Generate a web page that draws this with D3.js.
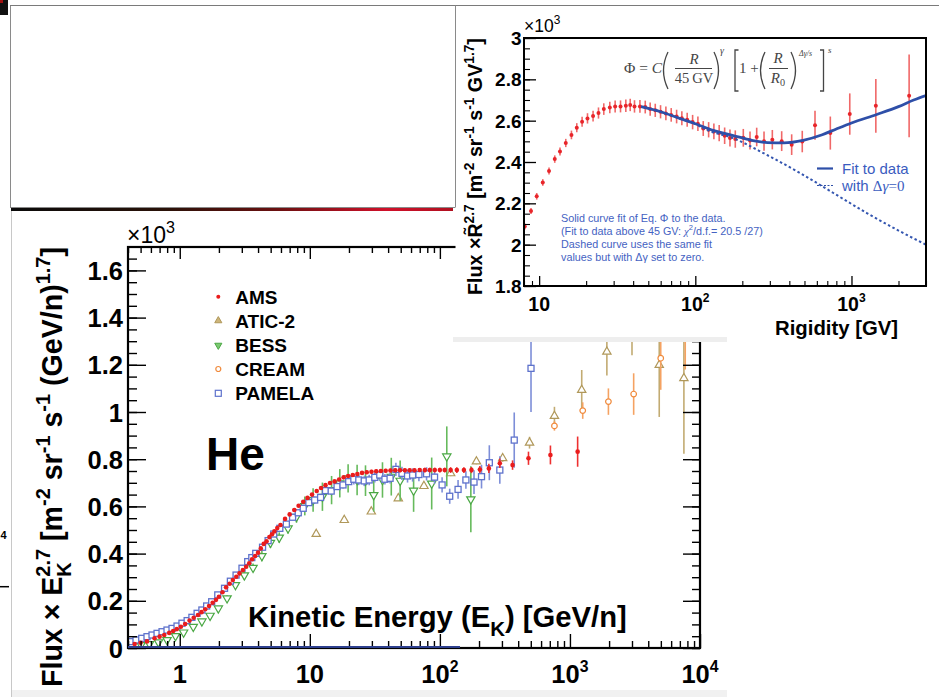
<!DOCTYPE html>
<html><head><meta charset="utf-8">
<script src="https://cdn.jsdelivr.net/npm/d3@7"></script>
<style>html,body{margin:0;padding:0;background:#fff;overflow:hidden}svg{display:block}</style>
</head><body>
<script>
// ---------------- DATA: main panel (He, Flux x Ek^2.7, units 10^3) ----------------
const amsE = [0.45,0.50,0.56,0.64,0.70,0.76,0.83,0.89,0.95,1.02,1.10,1.19,1.28,1.38,1.47,1.57,1.68,1.79,1.90,2.00,2.13,2.27,2.42,2.56,2.72,2.88,3.06,3.24,3.42,3.60,3.80,4.00,4.20,4.42,4.65,4.89,5.12,5.34,5.62,5.95,6.45,7.00,7.60,8.20,8.90,9.60,10.4,11.3,12.2,13.2,14.3,15.5,16.8,18.2,19.7,21.4,23.2,25.2,27.4,29.8,32.4,35.2,38.3,41.7,45.4,49.4,53.8,58.6,63.8,70,76.6,83.7,91.4,100,109,121,135,153,175,203,238,289,362,480,708,1146];
const amsFlux = [0.017,0.022,0.028,0.041,0.048,0.055,0.064,0.072,0.080,0.090,0.102,0.116,0.128,0.140,0.152,0.164,0.178,0.192,0.204,0.217,0.236,0.257,0.272,0.288,0.302,0.316,0.330,0.344,0.359,0.376,0.390,0.404,0.422,0.441,0.452,0.470,0.482,0.494,0.508,0.521,0.547,0.566,0.585,0.603,0.620,0.636,0.650,0.665,0.678,0.690,0.699,0.706,0.714,0.723,0.729,0.733,0.737,0.742,0.745,0.747,0.749,0.750,0.751,0.752,0.753,0.753,0.753,0.753,0.753,0.754,0.754,0.754,0.754,0.754,0.754,0.754,0.754,0.754,0.754,0.756,0.761,0.783,0.775,0.804,0.818,0.832];
const amsErr = [0.004,0.004,0.004,0.004,0.004,0.004,0.004,0.004,0.004,0.004,0.004,0.004,0.004,0.004,0.004,0.004,0.004,0.004,0.004,0.004,0.004,0.004,0.004,0.004,0.004,0.004,0.004,0.004,0.004,0.004,0.004,0.004,0.004,0.004,0.004,0.004,0.004,0.004,0.004,0.004,0.006,0.006,0.006,0.006,0.006,0.006,0.006,0.006,0.006,0.006,0.006,0.006,0.006,0.006,0.006,0.008,0.008,0.008,0.008,0.008,0.008,0.008,0.008,0.008,0.008,0.008,0.008,0.008,0.008,0.008,0.010,0.010,0.010,0.010,0.010,0.012,0.012,0.012,0.013,0.015,0.020,0.020,0.020,0.028,0.040,0.064];

const pamelaE = [0.418,0.461,0.51,0.56,0.612,0.669,0.731,0.798,0.872,0.953,1.04,1.14,1.24,1.36,1.48,1.61,1.76,1.96,2.21,2.45,2.71,3.01,3.33,3.58,3.84,4.33,4.78,5.28,5.88,6.6,7.37,8.15,8.9,9.83,10.9,12.1,13.2,14.6,16.2,18.0,19.9,21.8,23.8,26.2,28.6,31.6,34.5,37.8,41.4,45.9,51.1,56.4,61.7,69,79,91,104,119,138,158.5,183,209,240,289,373,502];
const pamelaFlux = [0.027,0.034,0.041,0.048,0.055,0.062,0.069,0.076,0.083,0.093,0.105,0.116,0.130,0.147,0.161,0.178,0.196,0.225,0.253,0.283,0.309,0.338,0.366,0.383,0.401,0.427,0.455,0.483,0.507,0.525,0.554,0.573,0.592,0.616,0.627,0.638,0.667,0.665,0.684,0.691,0.705,0.715,0.712,0.708,0.712,0.723,0.733,0.715,0.719,0.757,0.740,0.729,0.733,0.735,0.738,0.724,0.691,0.643,0.672,0.712,0.703,0.726,0.785,0.754,0.881,1.185];
const pamelaErr = [0.003,0.003,0.003,0.003,0.003,0.003,0.003,0.003,0.003,0.003,0.003,0.003,0.003,0.003,0.003,0.003,0.003,0.003,0.003,0.003,0.003,0.003,0.003,0.003,0.003,0.008,0.008,0.008,0.008,0.008,0.008,0.008,0.008,0.008,0.015,0.015,0.015,0.015,0.015,0.015,0.015,0.022,0.022,0.022,0.022,0.022,0.022,0.022,0.022,0.028,0.028,0.028,0.028,0.028,0.028,0.028,0.032,0.032,0.040,0.037,0.050,0.050,0.074,0.058,0.117,0.185];

const bessE = [0.504,0.585,0.686,0.798,0.927,1.07,1.27,1.48,1.71,1.98,2.31,2.68,3.14,3.66,4.28,4.98,5.82,6.8,7.9,9.15,10.6,12.5,14.7,17,19.7,23.1,26.8,31.0,36.2,42.3,49.5,62.8,86.5,113,173];
const bessFlux = [0.013,0.017,0.024,0.034,0.051,0.066,0.090,0.113,0.137,0.168,0.211,0.267,0.308,0.340,0.390,0.446,0.468,0.507,0.556,0.602,0.627,0.641,0.669,0.698,0.719,0.712,0.709,0.648,0.712,0.726,0.709,0.667,0.697,0.812,0.630];
const bessErr = [0.004,0.004,0.004,0.004,0.004,0.004,0.004,0.004,0.004,0.004,0.012,0.012,0.018,0.018,0.022,0.022,0.022,0.022,0.025,0.040,0.050,0.060,0.060,0.060,0.060,0.065,0.065,0.070,0.075,0.080,0.085,0.090,0.110,0.127,0.140];

const aticE = [11.2,18.4,29.7,47.9,75.4,121,191,304,489,760,1232,1923,3000,4860,7520];
const aticFlux = [0.483,0.542,0.578,0.634,0.686,0.740,0.790,0.804,0.870,0.983,1.093,1.255,1.340,1.199,1.143];
const aticErr = [0.006,0.006,0.007,0.008,0.010,0.012,0.012,0.015,0.025,0.039,0.085,0.100,0.100,0.220,0.320];

const creamE = [760,1254,1976,3090,4990,7700];
const creamFlux = [0.941,1.006,1.044,1.076,1.228,1.450];
const creamErr = [0.020,0.035,0.056,0.088,0.134,0.270];

const mainYTicks = [0,0.2,0.4,0.6,0.8,1,1.2,1.4,1.6];
const mainYLabels = ["0","0.2","0.4","0.6","0.8","1","1.2","1.4","1.6"];
const mainXTicks = [1,10,100,1000,10000];
const mainXLabels = [["1",""],["10",""],["10","2"],["10","3"],["10","4"]];
const legendNames = ["AMS","ATIC-2","BESS","CREAM","PAMELA"];

// ---------------- DATA: inset (rigidity) ----------------
const rigidity = [8.09,8.87,9.65,10.55,11.57,12.59,13.6,14.81,16.1,17.42,18.84,20.4,22.15,23.99,25.94,28.35,30.67,33.2,35.9,38.3,40.8,44.2,47.8,51.4,55.4,59.9,64.8,70.1,75.9,82.0,88.7,96.1,103.9,112.4,121.7,131.5,142.2,154.1,166.7,180.3,202.9,224,247.2,275.4,311.3,357.3,414,484,584,732,975,1432,2339];
const rigFlux = [2.088,2.163,2.234,2.301,2.356,2.414,2.451,2.492,2.531,2.566,2.595,2.611,2.622,2.637,2.656,2.664,2.669,2.669,2.672,2.676,2.669,2.669,2.666,2.656,2.650,2.643,2.635,2.628,2.620,2.612,2.604,2.593,2.585,2.562,2.556,2.548,2.540,2.527,2.516,2.511,2.517,2.504,2.521,2.501,2.508,2.501,2.484,2.499,2.578,2.540,2.632,2.672,2.720];
const rigErr = [0.015,0.015,0.016,0.016,0.017,0.018,0.019,0.020,0.021,0.022,0.024,0.025,0.026,0.027,0.028,0.028,0.029,0.029,0.030,0.030,0.030,0.031,0.031,0.032,0.032,0.032,0.033,0.033,0.033,0.034,0.034,0.035,0.035,0.036,0.037,0.038,0.039,0.040,0.041,0.042,0.043,0.044,0.045,0.046,0.047,0.048,0.050,0.052,0.070,0.080,0.100,0.130,0.200];
const fitR = [45,60,80,100,130,175,230,290,370,490,650,800,1000,1450,2000,2500,3000];
const fitFlux = [2.668,2.643,2.610,2.585,2.553,2.528,2.505,2.494,2.493,2.505,2.532,2.560,2.589,2.630,2.668,2.700,2.722];
const dashR = [45,60,80,100,118,175,286,468,766,1253,2049,3000];
const dashFlux = [2.668,2.643,2.610,2.584,2.556,2.515,2.435,2.347,2.250,2.153,2.064,2.000];
const insetYTicks = [1.8,2,2.2,2.4,2.6,2.8,3];
const insetYLabels = ["1.8","2","2.2","2.4","2.6","2.8","3"];
const insetXTicks = [10,100,1000];
const insetXLabels = [["10",""],["10","2"],["10","3"]];
const insetNotes = ["Solid curve fit of Eq. \u03A6 to the data.","(Fit to data above 45 GV: ","Dashed curve uses the same fit","values but with \u0394\u03B3 set to zero."];

// ---------------- drawing ----------------
const W = 939, H = 697;
const SANS = "'Liberation Sans', Arial, Helvetica, sans-serif";
const SERIF = "'Liberation Serif', 'Times New Roman', serif";
const svg = d3.select("body").append("svg").attr("width", W).attr("height", H);
const defs = svg.append("defs");
svg.append("rect").attr("width", W).attr("height", H).attr("fill", "#fff");

// rich text helper: parts = [[text, kind, opts]]
function rich(parent, x, y, parts, o) {
  const t = parent.append("text").attr("x", x).attr("y", y)
    .attr("font-family", o.family || SANS).attr("font-weight", o.weight || "bold")
    .attr("font-size", o.fs).attr("fill", o.fill || "#000")
    .attr("text-anchor", o.anchor || "start");
  if (o.transform) t.attr("transform", o.transform);
  let cur = 0, prev = null, pendingDx = 0;
  parts.forEach(p => {
    const kind = p[1] || "", po = p[2] || {};
    let target = 0, size = o.fs;
    if (kind === "sup") { target = o.fs * (o.supShift || 0.42); size = o.fs * (o.supScale || 0.68); }
    if (kind === "sub" || kind === "subback") { target = -o.fs * (o.subShift || 0.3); size = o.fs * (o.supScale || 0.68); }
    const ts = t.append("tspan").attr("dy", cur - target).attr("font-size", size).text(p[0]);
    if (po.italic) ts.attr("font-style", "italic");
    if (po.family) ts.attr("font-family", po.family);
    if (po.weight) ts.attr("font-weight", po.weight);
    if (pendingDx) { ts.attr("dx", pendingDx); pendingDx = 0; }
    if (kind === "subback" && prev) {
      const supW = prev.node().getComputedTextLength();
      ts.attr("dx", -supW);
      const subW = ts.node().getComputedTextLength();
      pendingDx = Math.max(0, supW - subW);
    }
    cur = target; prev = ts;
  });
  return t;
}
function fitRich(parent, x, y, parts, o, width) {
  let t = rich(parent, x, y, parts, o);
  const w = t.node().getBBox().width;
  if (w > 0) { t.remove(); t = rich(parent, x, y, parts, Object.assign({}, o, {fs: o.fs * width / w})); }
  return t;
}

// --- collage artefacts: top-left empty panel ---
svg.append("rect").attr("x", 0).attr("y", 0).attr("width", 8).attr("height", 15).attr("fill", "#111");
svg.append("rect").attr("x", 0).attr("y", 0).attr("width", 3).attr("height", 3).attr("fill", "#a01010");
svg.append("rect").attr("x", 10.5).attr("y", 5.5).attr("width", 445).attr("height", 202)
  .attr("fill", "#fff").attr("stroke", "#8a8a8a").attr("stroke-width", 1);
const grad = defs.append("linearGradient").attr("id", "gl");
[["0%", "#0a0a0a"], ["35%", "#2a1208"], ["60%", "#6a1010"], ["85%", "#d0102a"], ["100%", "#b01020"]]
  .forEach(s => grad.append("stop").attr("offset", s[0]).attr("stop-color", s[1]));
svg.append("rect").attr("x", 11).attr("y", 208).attr("width", 442).attr("height", 3).attr("fill", "url(#gl)");
svg.append("line").attr("x1", 11.5).attr("x2", 11.5).attr("y1", 211).attr("y2", 697).attr("stroke", "#c8c8c8");
svg.append("text").attr("x", 0.5).attr("y", 539).attr("font-family", SANS)
  .attr("font-weight", "bold").attr("font-size", 11).text("4");
svg.append("line").attr("x1", 0).attr("x2", 9).attr("y1", 586.7).attr("y2", 586.7).attr("stroke", "#000").attr("stroke-width", 1.5);
svg.append("rect").attr("x", 12).attr("y", 690).attr("width", 715).attr("height", 7).attr("fill", "#f1f1f1");

// --- main panel ---
const xM = d3.scaleLog().domain([0.4, 1e4]).range([128, 700]);
const yM = d3.scaleLinear().domain([0, 1.7]).range([648, 246.8]);
defs.append("clipPath").attr("id", "mclip").append("rect").attr("x", 128).attr("y", 247).attr("width", 572).attr("height", 401);
const mg = svg.append("g");
const dg = mg.append("g").attr("clip-path", "url(#mclip)");

function drawSeries(g, E, F, Er, col, barCol, kind, xs, ys) {
  const pts = E.map((e, i) => ({e, f: F[i], er: Er[i]}));
  const gg = g.append("g");
  gg.selectAll("line").data(pts).join("line")
    .attr("x1", d => xs(d.e)).attr("x2", d => xs(d.e))
    .attr("y1", d => ys(d.f - d.er)).attr("y2", d => ys(d.f + d.er))
    .attr("stroke", barCol).attr("stroke-width", 1.6);
  const m = gg.selectAll("g.m").data(pts).join("g").attr("class", "m")
    .attr("transform", d => `translate(${xs(d.e)},${ys(d.f)})`);
  if (kind === "dot") m.append("circle").attr("r", 2.3).attr("fill", col);
  if (kind === "sq") m.append("rect").attr("x", -3).attr("y", -3).attr("width", 6).attr("height", 6).attr("fill", "#fff").attr("stroke", col).attr("stroke-width", 1.3);
  if (kind === "up") m.append("path").attr("d", d3.symbol(d3.symbolTriangle, 30)()).attr("fill", "#fff").attr("stroke", col).attr("stroke-width", 1.2);
  if (kind === "down") m.append("path").attr("d", d3.symbol(d3.symbolTriangle, 30)()).attr("transform", "rotate(180)").attr("fill", "#fff").attr("stroke", col).attr("stroke-width", 1.2);
  if (kind === "circ") m.append("circle").attr("r", 2.8).attr("fill", "#fff").attr("stroke", col).attr("stroke-width", 1.2);
  if (kind === "rdot") m.append("circle").attr("r", 2).attr("fill", col);
}
const C_ATIC = "#b0985a", C_CREAM = "#f08a3c", C_BESS = "#4aa844", C_PAM = "#5e72cc", C_AMS = "#ea1c1c";
drawSeries(dg, aticE, aticFlux, aticErr, C_ATIC, "#c2ab72", "up", xM, yM);
drawSeries(dg, creamE, creamFlux, creamErr, C_CREAM, "#f5a262", "circ", xM, yM);
drawSeries(dg, bessE, bessFlux, bessErr, C_BESS, "#66ba5c", "down", xM, yM);
drawSeries(dg, pamelaE, pamelaFlux, pamelaErr, C_PAM, "#7d8ed8", "sq", xM, yM);
drawSeries(dg, amsE, amsFlux, amsErr, C_AMS, "#ee3030", "dot", xM, yM);

function ticks(parent, gen, tx, ty, w) {
  const g = parent.append("g").attr("transform", `translate(${tx},${ty})`).call(gen);
  g.select(".domain").remove(); g.selectAll("text").remove();
  g.selectAll("line").attr("stroke", "#000").attr("stroke-width", w || 1.4);
  return g;
}
const minorY = d3.range(0, 1.7001, 0.05).map(v => +v.toFixed(2));
const minorX = [];
[0.1, 1, 10, 100, 1000].forEach(dec => { for (let k = 2; k <= 9; k++) { const v = k * dec; if (v >= 0.4 && v <= 1e4) minorX.push(v); } });
ticks(mg, d3.axisRight(yM).tickValues(mainYTicks).tickSize(18), 128, 0);
ticks(mg, d3.axisRight(yM).tickValues(minorY).tickSize(9), 128, 0);
ticks(mg, d3.axisLeft(yM).tickValues(mainYTicks).tickSize(17), 700, 0);
ticks(mg, d3.axisLeft(yM).tickValues(minorY).tickSize(8), 700, 0);
ticks(mg, d3.axisTop(xM).tickValues(mainXTicks).tickSize(14), 0, 648);
ticks(mg, d3.axisTop(xM).tickValues(minorX).tickSize(7), 0, 648);
ticks(mg, d3.axisBottom(xM).tickValues(mainXTicks.slice(0, 4)).tickSize(12), 0, 247);
ticks(mg, d3.axisBottom(xM).tickValues(minorX).tickSize(6), 0, 247);
mg.append("rect").attr("x", 128).attr("y", 247).attr("width", 572).attr("height", 401)
  .attr("fill", "none").attr("stroke", "#000").attr("stroke-width", 2.2);
mg.append("line").attr("x1", 128).attr("x2", 460).attr("y1", 647).attr("y2", 647).attr("stroke", "#2d3f8e").attr("stroke-width", 2);

// tick labels
mainYTicks.forEach((v, i) => mg.append("text").attr("x", 123).attr("y", yM(v) + 9.5).attr("text-anchor", "end")
  .attr("font-family", SANS).attr("font-weight", "bold").attr("font-size", 25.5).text(mainYLabels[i]));
mainXTicks.forEach((v, i) => {
  const l = mainXLabels[i];
  const parts = l[1] ? [[l[0]], [l[1], "sup"]] : [[l[0]]];
  rich(mg, xM(v), 683, parts, {fs: 25.5, anchor: "middle", supScale: 0.62, supShift: 0.45});
});
rich(mg, 127, 243, [["\u00D710"], ["3", "sup"]], {fs: 23, weight: "normal", supScale: 0.7, supShift: 0.45});

// axis titles
fitRich(mg, 0, 0, [["Flux \u00D7 E"], ["2.7", "sup"], ["K", "subback"], [" [m"], ["-2", "sup"], [" sr"], ["-1", "sup"], [" s"], ["-1", "sup"], [" (GeV/n)"], ["1.7", "sup"], ["]"]],
  {fs: 27, anchor: "middle", transform: "translate(62,467) rotate(-90)", supScale: 0.7, supShift: 0.42, subShift: 0.32}, 440);
fitRich(mg, 248, 627, [["Kinetic Energy (E"], ["K", "sub"], [") [GeV/n]"]], {fs: 28, supScale: 0.7, subShift: 0.3}, 379);
mg.append("text").attr("x", 206).attr("y", 470).attr("font-family", SANS).attr("font-weight", "bold").attr("font-size", 46).text("He");

// legend
const legY = [296.7, 320.7, 345.3, 369, 393.3];
const legKind = ["rdot", "lup", "ldown", "circ", "sq"];
const legCol = [C_AMS, C_ATIC, C_BESS, C_CREAM, C_PAM];
legendNames.forEach((n, i) => {
  const g = mg.append("g").attr("transform", `translate(218.3,${legY[i]})`);
  const k = legKind[i];
  if (k === "rdot") g.append("circle").attr("r", 2).attr("fill", legCol[i]);
  if (k === "lup") g.append("path").attr("d", d3.symbol(d3.symbolTriangle, 22)()).attr("fill", "#cdb57a").attr("stroke", legCol[i]).attr("stroke-width", 1);
  if (k === "ldown") g.append("path").attr("d", d3.symbol(d3.symbolTriangle, 22)()).attr("transform", "rotate(180)").attr("fill", "#7cc972").attr("stroke", legCol[i]).attr("stroke-width", 1);
  if (k === "circ") g.append("circle").attr("r", 2.5).attr("fill", "#fff").attr("stroke", legCol[i]).attr("stroke-width", 1.2);
  if (k === "sq") g.append("rect").attr("x", -3).attr("y", -3).attr("width", 6).attr("height", 6).attr("fill", "#fff").attr("stroke", legCol[i]).attr("stroke-width", 1.2);
  mg.append("text").attr("x", 235.3).attr("y", legY[i] + 7).attr("font-family", SANS).attr("font-weight", "bold").attr("font-size", 19).text(n);
});

// --- inset panel ---
const ig = svg.append("g");
ig.append("rect").attr("x", 455.5).attr("y", 0).attr("width", W - 455.5).attr("height", 340).attr("fill", "#fff");
ig.append("rect").attr("x", 453).attr("y", 337).attr("width", 274).attr("height", 5).attr("fill", "#eeeeee");
ig.append("line").attr("x1", 10).attr("x2", W).attr("y1", 5.5).attr("y2", 5.5).attr("stroke", "#7a7a7a").attr("stroke-width", 1);
ig.append("line").attr("x1", 455.5).attr("x2", 455.5).attr("y1", 5.5).attr("y2", 207).attr("stroke", "#8a8a8a").attr("stroke-width", 1);

const xI = d3.scaleLog().domain([8, 3000]).range([524, 926]);
const yI = d3.scaleLinear().domain([1.8, 3]).range([286, 38]);
defs.append("clipPath").attr("id", "iclip").append("rect").attr("x", 524).attr("y", 38).attr("width", 402).attr("height", 248);
const idg = ig.append("g").attr("clip-path", "url(#iclip)");
drawSeries(idg, rigidity, rigFlux, rigErr, "#e8252a", "#f06868", "rdot", xI, yI);
const line = d3.line().x(d => xI(d[0])).y(d => yI(d[1])).curve(d3.curveMonotoneX);
idg.append("path").attr("d", line(dashR.map((r, i) => [r, dashFlux[i]]))).attr("fill", "none")
  .attr("stroke", "#3456b0").attr("stroke-width", 2).attr("stroke-dasharray", "2.5,2.5");
idg.append("path").attr("d", line(fitR.map((r, i) => [r, fitFlux[i]]))).attr("fill", "none")
  .attr("stroke", "#2e4fa8").attr("stroke-width", 2.8);

const minorYI = d3.range(1.8, 3.0001, 0.05).map(v => +v.toFixed(2));
const minorXI = [8, 9, 20, 30, 40, 50, 60, 70, 80, 90, 200, 300, 400, 500, 600, 700, 800, 900, 2000, 3000];
ticks(ig, d3.axisRight(yI).tickValues(insetYTicks).tickSize(12), 524, 0, 1.3);
ticks(ig, d3.axisRight(yI).tickValues(minorYI).tickSize(6), 524, 0, 1.1);
ticks(ig, d3.axisTop(xI).tickValues(insetXTicks).tickSize(10), 0, 286, 1.3);
ticks(ig, d3.axisTop(xI).tickValues(minorXI).tickSize(5), 0, 286, 1.1);
ig.append("rect").attr("x", 524).attr("y", 38).attr("width", 402).attr("height", 248)
  .attr("fill", "none").attr("stroke", "#000").attr("stroke-width", 2);
insetYTicks.forEach((v, i) => ig.append("text").attr("x", 521.5).attr("y", yI(v) + 7).attr("text-anchor", "end")
  .attr("font-family", SANS).attr("font-weight", "bold").attr("font-size", 19).text(insetYLabels[i]));
insetXTicks.forEach((v, i) => {
  const l = insetXLabels[i];
  const parts = l[1] ? [[l[0]], [l[1], "sup"]] : [[l[0]]];
  rich(ig, xI(v), 311, parts, {fs: 19.5, anchor: "middle", supScale: 0.62, supShift: 0.45});
});
rich(ig, 524, 32, [["\u00D710"], ["3", "sup"]], {fs: 17.5, weight: "normal", supScale: 0.68, supShift: 0.45});
fitRich(ig, 0, 0, [["Flux \u00D7R\u0303"], ["2.7", "sup"], [" [m"], ["-2", "sup"], [" sr"], ["-1", "sup"], [" s"], ["-1", "sup"], [" GV"], ["1.7", "sup"], ["]"]],
  {fs: 20, anchor: "middle", transform: "translate(482,166.5) rotate(-90)", supScale: 0.7, supShift: 0.42}, 257);
fitRich(ig, 775, 335, [["Rigidity [GV]"]], {fs: 20.3}, 123);

// formula
const FC = "#454545";
const fg = ig.append("g").attr("fill", FC).attr("font-family", SERIF);
rich(fg, 624, 73, [["\u03A6 = "], ["C", "", {italic: true}]], {fs: 15.5, weight: "normal", family: SERIF, fill: FC});
const pth = (d) => fg.append("path").attr("d", d).attr("fill", "none").attr("stroke", FC).attr("stroke-width", 1.3);
pth("M668,52 Q659,70.5 668,89"); pth("M714,52 Q723,70.5 714,89");
fg.append("text").attr("x", 694).attr("y", 64).attr("text-anchor", "middle").attr("font-size", 15).attr("font-style", "italic").text("R");
fg.append("line").attr("x1", 675).attr("x2", 712).attr("y1", 68.5).attr("y2", 68.5).attr("stroke", FC).attr("stroke-width", 1);
fg.append("text").attr("x", 694).attr("y", 82.5).attr("text-anchor", "middle").attr("font-size", 14.5).text("45\u2009GV");
fg.append("text").attr("x", 720).attr("y", 54).attr("font-size", 10).attr("font-style", "italic").text("\u03B3");
pth("M738.5,50 H735 V91 H738.5");
fg.append("text").attr("x", 739).attr("y", 73).attr("font-size", 15).text("1 +");
pth("M765,52 Q756,70.5 765,89"); pth("M791,52 Q800,70.5 791,89");
fg.append("text").attr("x", 778).attr("y", 63).attr("text-anchor", "middle").attr("font-size", 15).attr("font-style", "italic").text("R");
fg.append("line").attr("x1", 769).attr("x2", 788).attr("y1", 68.5).attr("y2", 68.5).attr("stroke", FC).attr("stroke-width", 1);
rich(fg, 778, 82.5, [["R", "", {italic: true}], ["0", "sub"]], {fs: 15, weight: "normal", family: SERIF, fill: FC, anchor: "middle", subShift: 0.2});
fg.append("text").attr("x", 799).attr("y", 56).attr("font-size", 8).attr("font-style", "italic").text("\u0394\u03B3/s");
pth("M820,50 H823.5 V91 H820");
fg.append("text").attr("x", 828).attr("y", 53).attr("font-size", 9).attr("font-style", "italic").text("s");

// inset legend
const LC = "#3a5cc0";
ig.append("line").attr("x1", 817).attr("x2", 833).attr("y1", 168.5).attr("y2", 168.5).attr("stroke", "#2e4fa8").attr("stroke-width", 2.2);
ig.append("text").attr("x", 842).attr("y", 174).attr("font-family", SANS).attr("font-size", 15).attr("fill", LC).text("Fit to data");
ig.append("line").attr("x1", 817).attr("x2", 833).attr("y1", 185.5).attr("y2", 185.5).attr("stroke", "#2e4fa8").attr("stroke-width", 1.2).attr("stroke-dasharray", "2,1.5");
rich(ig, 842, 191, [["with "], ["\u0394", "", {family: SERIF}], ["\u03B3", "", {family: SERIF, italic: true}], ["=0", "", {family: SERIF}]], {fs: 15, weight: "normal", fill: LC});

// inset notes
const NC = "#4462c2";
const notes = ig.append("g");
const n1 = notes.append("text").attr("x", 561).attr("y", 222).attr("font-family", SANS).attr("font-size", 10.5).attr("fill", NC).text(insetNotes[0]);
const w1 = n1.node().getComputedTextLength();
const nfs = 10.5 * 164.7 / w1;
n1.attr("font-size", nfs);
rich(notes, 561, 235, [[insetNotes[1]], ["\u03C7", "", {family: SERIF, italic: true}], ["2", "sup"], ["/d.f.= 20.5 /27)"]], {fs: nfs, weight: "normal", fill: NC, supScale: 0.7});
notes.append("text").attr("x", 561).attr("y", 248).attr("font-family", SANS).attr("font-size", nfs).attr("fill", NC).text(insetNotes[2]);
notes.append("text").attr("x", 561).attr("y", 261).attr("font-family", SANS).attr("font-size", nfs).attr("fill", NC).text(insetNotes[3]);
</script>
</body></html>
